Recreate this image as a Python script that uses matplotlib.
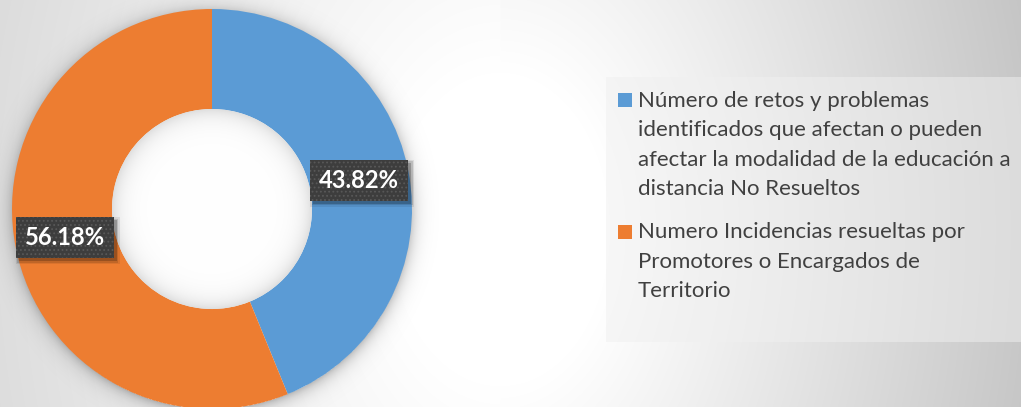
import matplotlib.pyplot as plt
import numpy as np
from matplotlib.patches import Circle, Rectangle

# data
values = [43.82, 56.18]
legend_labels = [
    "Número de retos y problemas\nidentificados que afectan o pueden\n"
    "afectar la modalidad de la educación a\ndistancia No Resueltos",
    "Numero Incidencias resueltas por\nPromotores o Encargados de\nTerritorio",
]
colors = ["#5B9BD5", "#ED7D31"]

W, H = 1021, 407
plt.rcParams['font.family'] = ['Lato', 'DejaVu Sans']
plt.rcParams['hatch.linewidth'] = 0.8

fig = plt.figure(figsize=(W / 100, H / 100), dpi=100)
ax = fig.add_axes([0, 0, 1, 1])
ax.axis('off')

# pixel helpers (y measured from top)
def Y(y):
    return H - y

cx, cy, R, r_in = 212, 209, 200, 100

yy, xx = np.mgrid[0:H, 0:W] + 0.5

# background gradient: grey at both sides, white in the middle
gx = 500
d = np.hypot(xx - gx, (yy - 230) * 0.7)
k = np.where(xx < gx, 0.00033, 0.00052)
bg = 1 - k * np.clip(d - 110, 0, None)
ax.imshow(np.dstack([bg] * 3), extent=(0, W, 0, H), origin='upper', zorder=0)

# soft shadow round the donut
d2 = np.hypot(xx - cx, yy - (cy + 2))
sh = np.where(d2 > R - 2, 0.25 * np.exp(-(d2 - R + 2) / 7.0), 0)
shadow = np.zeros((H, W, 4))
shadow[..., 3] = sh
ax.imshow(shadow, extent=(0, W, 0, H), origin='upper', zorder=1)

wedges, texts, autotexts = ax.pie(
    values, colors=colors, startangle=90, counterclock=False,
    radius=R, center=(cx, Y(cy)), autopct='%.2f%%', pctdistance=0.75,
    wedgeprops=dict(width=R - r_in, linewidth=0))
for w in wedges:
    w.set_zorder(2)

# hole with an inner shadow
d3 = np.hypot(xx - cx, yy - cy)
hole = 1 - 0.13 * np.exp(-np.clip(r_in - d3, 0, None) / 10.0)
im = ax.imshow(np.dstack([hole] * 3), extent=(0, W, 0, H), origin='upper', zorder=3)
im.set_clip_path(Circle((cx, Y(cy)), r_in, transform=ax.transData))

fig.canvas.draw()
renderer = fig.canvas.get_renderer()

# percentage labels on dark dotted boxes
for t in autotexts:
    t.set_color('white')
    t.set_fontweight('bold')
    t.set_fontsize(19)
    t.set_zorder(6)
probe = autotexts[0].get_window_extent(renderer).width
bw, bh = 98, 41
for t in autotexts:
    t.set_fontsize(19 * 80 / probe)
    x, y = t.get_position()
    for grow, a in [(3, 0.08), (1.5, 0.12), (0, 0.2)]:
        ax.add_patch(Rectangle((x - bw / 2 + 3 - grow, y - bh / 2 - 3 - grow),
                               bw + 2 * grow, bh + 2 * grow, fc='black',
                               alpha=a, lw=0, zorder=4))
    ax.add_patch(Rectangle((x - bw / 2, y - bh / 2), bw, bh, fc='#3d3d3d',
                           ec='#585858', lw=0, hatch='....', zorder=5))

# legend
ax.add_patch(Rectangle((606, Y(342)), W - 606, 265, fc='#f0f0f0', alpha=0.5,
                       lw=0, zorder=2))
t = ax.text(0, 0, "afectar la modalidad de la educación a", fontsize=15)
fs = 15 * 372 / t.get_window_extent(renderer).width
t.remove()

first_baseline = [107, 238.5]
line_step = 29.3
for lab, col, b0 in zip(legend_labels, colors, first_baseline):
    ax.add_patch(Rectangle((618, Y(b0)), 14, 14, fc=col, lw=0, zorder=4))
    for j, line in enumerate(lab.split('\n')):
        ax.text(638, Y(b0 + j * line_step), line, fontsize=fs, color='#404040',
                va='baseline', ha='left', zorder=4)

ax.set_aspect('auto')
ax.set_xlim(0, W)
ax.set_ylim(0, H)
fig.savefig('out.png', dpi=100)
